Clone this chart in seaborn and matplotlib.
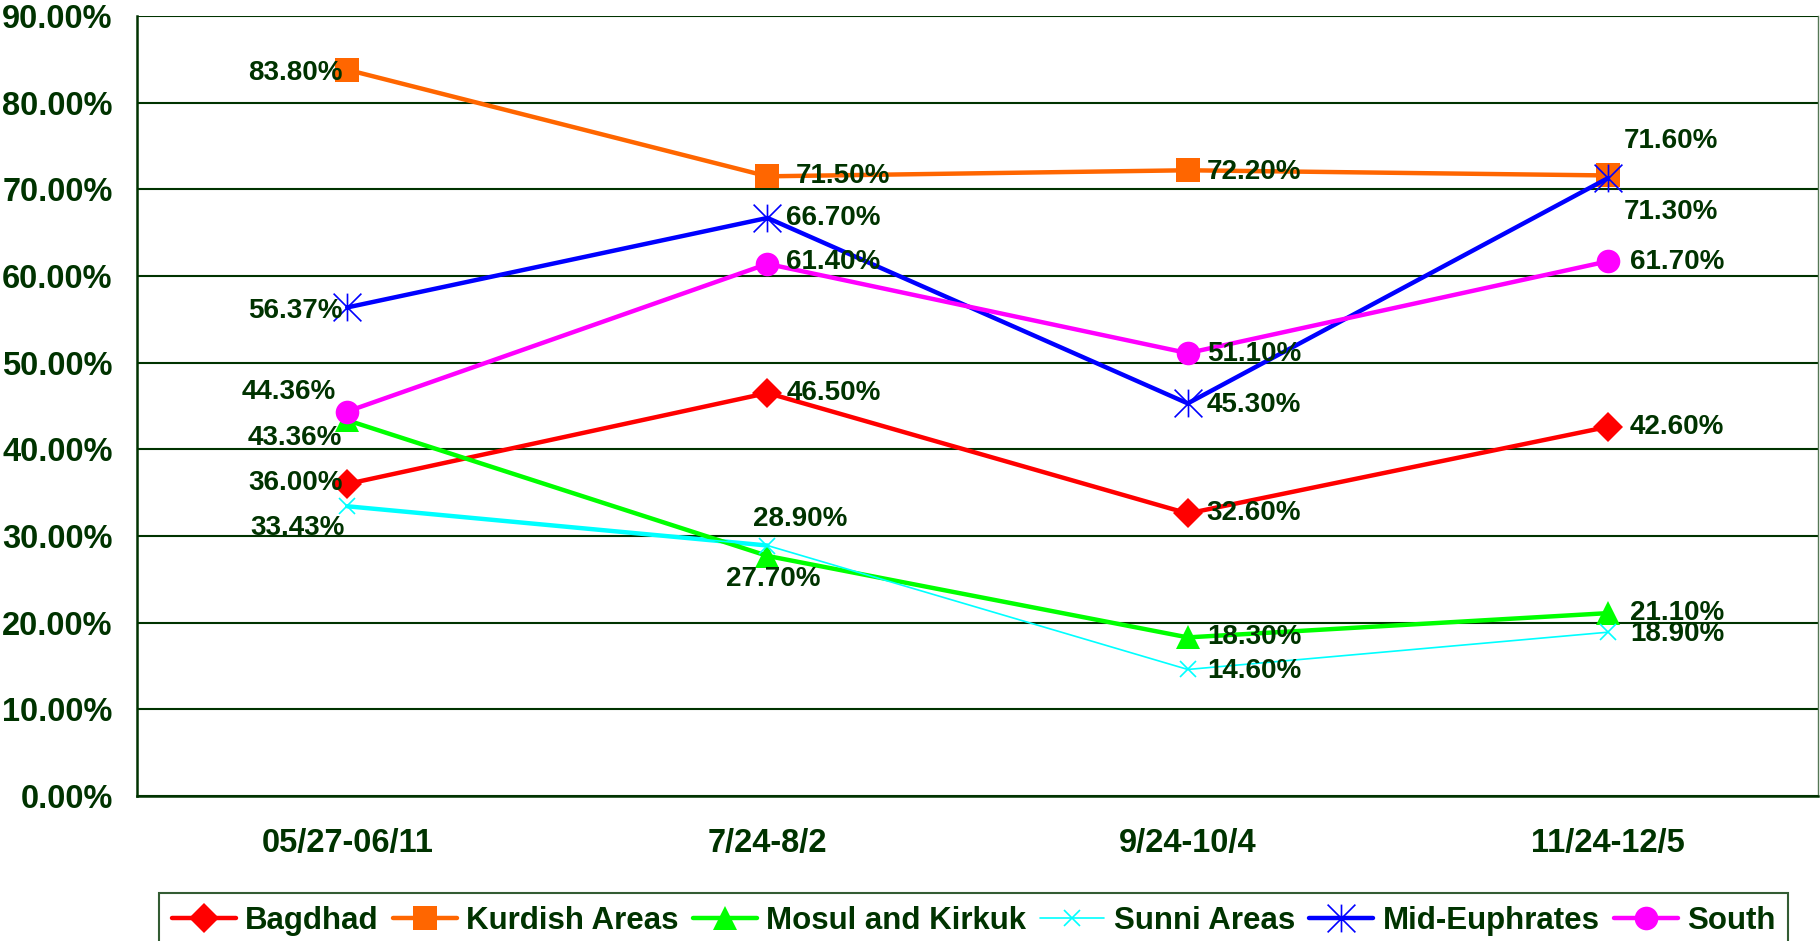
import matplotlib
matplotlib.use('Agg')
import matplotlib.pyplot as plt
from matplotlib.path import Path
from matplotlib.ticker import FuncFormatter, FixedLocator
import seaborn as sns
import numpy as np
import pandas as pd

# periods on the x axis
periods = ['05/27-06/11', '7/24-8/2', '9/24-10/4', '11/24-12/5']

# values per region (percent)
bagdhad = [36.00, 46.50, 32.60, 42.60]
kurdish = [83.80, 71.50, 72.20, 71.60]
mosul_kirkuk = [43.36, 27.70, 18.30, 21.10]
sunni = [33.43, 28.90, 14.60, 18.90]
mid_euphrates = [56.37, 66.70, 45.30, 71.30]
south = [44.36, 61.40, 51.10, 61.70]

series_names = ['Bagdhad', 'Kurdish Areas', 'Mosul and Kirkuk',
                'Sunni Areas', 'Mid-Euphrates', 'South']
series_values = [bagdhad, kurdish, mosul_kirkuk, sunni, mid_euphrates, south]

TXT = '#003300'

# asterisk like excel: vertical bar + X
star = Path([(0, -1), (0, 1), (-1, -1), (1, 1), (-1, 1), (1, -1)],
            [Path.MOVETO, Path.LINETO, Path.MOVETO, Path.LINETO, Path.MOVETO, Path.LINETO])

styles = {
    'Bagdhad': dict(color='#FF0000', marker='D', ms=15, lw=3.2, mew=0),
    'Kurdish Areas': dict(color='#FF6600', marker='s', ms=17, lw=3.2, mew=0),
    'Mosul and Kirkuk': dict(color='#00FF00', marker='^', ms=17, lw=3.2, mew=0),
    'Sunni Areas': dict(color='#00FFFF', marker='x', ms=12, lw=1.2, mew=1.2),
    'Mid-Euphrates': dict(color='#0000FF', marker=star, ms=20, lw=3.2, mew=1.2),
    'South': dict(color='#FF00FF', marker='o', ms=17, lw=3.2, mew=0),
}

# label offsets in pixels (dx, dy, ha)
label_pos = {
    'Bagdhad': [(-4, 1, 'right'), (19, 0, 'left'), (19, 0, 'left'), (22, 0, 'left')],
    'Kurdish Areas': [(-5, -3, 'right'), (28, 0, 'left'), (19, -2, 'left'), (16, 34, 'left')],
    'Mosul and Kirkuk': [(-5, -18, 'right'), (6, -23, 'center'), (19, 0, 'left'), (22, 0, 'left')],
    'Sunni Areas': [(-2, -22, 'right'), (-14, 27, 'left'), (19, -2, 'left'), (22, -2, 'left')],
    'Mid-Euphrates': [(-5, -4, 'right'), (19, 0, 'left'), (19, -2, 'left'), (16, -34, 'left')],
    'South': [(-11, 20, 'right'), (19, 2, 'left'), (19, -1, 'left'), (22, -1, 'left')],
}

sns.set_style('white')
plt.rcParams['font.family'] = ['Liberation Sans', 'DejaVu Sans']
plt.rcParams['font.weight'] = 'bold'

fig = plt.figure(figsize=(18.2, 9.41), dpi=100)
ax = fig.add_axes([0.0753, 0.1541, 0.9237, 0.8289])

x = np.arange(len(periods))
for name, vals in zip(series_names, series_values):
    st = styles[name]
    df = pd.DataFrame({'x': x, 'y': vals})
    sns.lineplot(data=df, x='x', y='y', ax=ax, color=st['color'], lw=st['lw'],
                 marker=st['marker'], markersize=st['ms'], markeredgewidth=st['mew'],
                 markeredgecolor=st['color'], label=name, zorder=3)
    if name == 'Sunni Areas':
        # first segment is drawn thick in the original
        sns.lineplot(data=df.iloc[:2], x='x', y='y', ax=ax, color=st['color'], lw=3.2,
                     zorder=2.9, legend=False)

for name, vals in zip(series_names, series_values):
    for xi, v, (dx, dy, ha) in zip(x, vals, label_pos[name]):
        ax.annotate(f'{v:.2f}%', (xi, v), xytext=(dx, dy), textcoords='offset pixels',
                    ha=ha, va='center', fontsize=20, fontweight='bold', color=TXT, zorder=5)

ax.set_xlim(-0.5, len(periods) - 0.5)
ax.set_ylim(0, 90)
ax.set_yticks(np.arange(0, 91, 10))
ax.yaxis.set_major_formatter(FuncFormatter(lambda v, p: f'{v:.2f}%'))
ax.set_xticks(x)
ax.set_xticklabels(periods)
ax.xaxis.set_minor_locator(FixedLocator(np.arange(-0.5, len(periods), 1.0)))
ax.tick_params(axis='x', which='major', length=0, pad=23, labelsize=23.5, labelcolor=TXT)
ax.tick_params(axis='x', which='minor', length=6.5, width=1.2, color=TXT, direction='out')
ax.tick_params(axis='y', length=6.5, width=1.2, color=TXT, direction='out', pad=11,
               labelsize=23.5, labelcolor=TXT)
for lab in ax.get_xticklabels() + ax.get_yticklabels():
    lab.set_fontweight('bold')

ax.grid(axis='y', color=TXT, lw=1.5)
ax.set_axisbelow(True)
for side in ['left', 'bottom']:
    ax.spines[side].set_color(TXT)
    ax.spines[side].set_linewidth(1.8)
ax.spines['top'].set_visible(False)
ax.spines['right'].set_color('#557755')
ax.spines['right'].set_linewidth(1.0)
ax.set_xlabel('')
ax.set_ylabel('')

leg = ax.legend(loc='upper center', bbox_to_anchor=(0.535, 0.051), bbox_transform=fig.transFigure,
                ncol=6, frameon=True, fancybox=False, fontsize=22.5, handlelength=2.05,
                handletextpad=0.3, columnspacing=0.45, borderpad=0.4, borderaxespad=0)
leg.get_frame().set_edgecolor(TXT)
leg.get_frame().set_linewidth(1.5)
for t in leg.get_texts():
    t.set_color(TXT)
    t.set_fontweight('bold')

fig.savefig('out.png', dpi=100)
